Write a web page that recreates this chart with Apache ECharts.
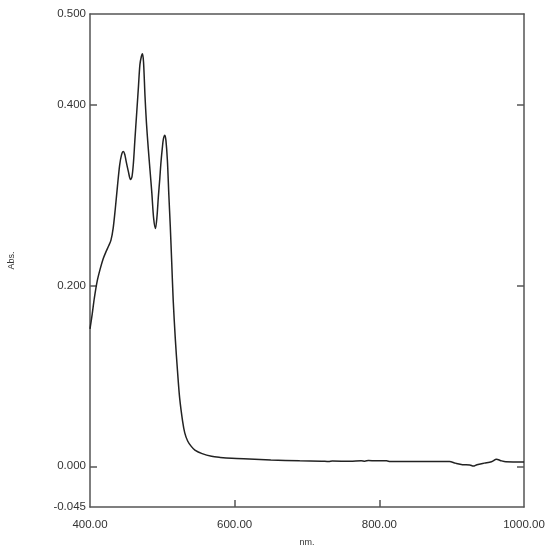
<!DOCTYPE html>
<html>
<head>
<meta charset="utf-8">
<script src="https://cdn.jsdelivr.net/npm/echarts@6/dist/echarts.min.js"></script>
<style>
  html, body { margin: 0; padding: 0; background: #fff; }
  #chart { width: 550px; height: 548px; }
</style>
</head>
<body>
<div id="chart"></div>
<script>
// wavelength (nm) and absorbance
const wavelength = [
  400, 403, 406, 410, 414, 418, 422, 426, 429, 432, 435, 438, 441, 443.5, 446,
  448, 450, 453, 456, 458, 460, 462, 464.5, 467, 469, 471, 472.5, 474, 476, 478,
  480.5, 483, 485.5, 488, 490.5, 492.5, 494.5, 496.5, 498, 500, 501.5, 503.5, 505,
  507, 509, 511, 513, 515, 518, 521, 524, 528, 531, 535, 540, 545, 555, 568, 580,
  596, 620, 650, 690, 720, 730, 735, 760, 775, 780, 785, 795, 810, 815, 860, 897,
  905, 915, 925, 930, 935, 945, 955, 962, 968, 975, 1000
];
const absorbance = [
  0.152, 0.168, 0.186, 0.205, 0.218, 0.229, 0.237, 0.244, 0.250, 0.263, 0.285, 0.310, 0.333, 0.344, 0.348,
  0.345, 0.337, 0.326, 0.317, 0.320, 0.335, 0.360, 0.390, 0.420, 0.444, 0.453, 0.456, 0.447, 0.410, 0.380,
  0.352, 0.327, 0.302, 0.274, 0.263, 0.275, 0.298, 0.318, 0.335, 0.352, 0.362, 0.366, 0.360,
  0.338, 0.300, 0.265, 0.225, 0.184, 0.140, 0.105, 0.075, 0.050, 0.037, 0.028, 0.022, 0.018, 0.014, 0.011, 0.0098,
  0.0088, 0.0080, 0.0070, 0.0060, 0.0057, 0.0052, 0.0058, 0.0055, 0.0062, 0.0057, 0.0064, 0.0060, 0.0060, 0.0052, 0.0052, 0.0052,
  0.0035, 0.0018, 0.0015, 0.0002, 0.0018, 0.0035, 0.0050, 0.0078, 0.0062, 0.0050, 0.0048
];

const yLabelValues = [-0.045, 0, 0.2, 0.4, 0.5];
const yTickValues = [0, 0.2, 0.4];
const xTickValues = [600, 800];

const frame = { show: true, onZero: false, lineStyle: { color: '#555', width: 1.5 } };
const tickStyle = { lineStyle: { color: '#555', width: 1.5 } };
const labelFont = { color: '#333', fontFamily: 'Liberation Sans, Arial, sans-serif', fontSize: 11.5 };

const chart = echarts.init(document.getElementById('chart'));
chart.setOption({
  animation: false,
  grid: { left: 90, right: 26, top: 14, bottom: 41, outerBoundsMode: 'none', containLabel: false },
  xAxis: [
    {
      type: 'value', min: 400, max: 1000, interval: 200, position: 'bottom',
      name: 'nm.', nameLocation: 'middle', nameGap: 31,
      nameTextStyle: { color: '#333', fontFamily: 'Liberation Sans, Arial, sans-serif', fontSize: 9 },
      axisLine: frame,
      axisTick: { show: true, inside: true, length: 7, customValues: xTickValues, ...tickStyle },
      axisLabel: { ...labelFont, margin: 12, formatter: v => v.toFixed(2) },
      splitLine: { show: false }
    },
    {
      type: 'value', min: 400, max: 1000, position: 'top',
      axisLine: frame, axisTick: { show: false }, axisLabel: { show: false }, splitLine: { show: false }
    }
  ],
  yAxis: [
    {
      type: 'value', min: -0.045, max: 0.5, position: 'left',
      name: 'Abs.', nameLocation: 'middle', nameGap: 74, nameRotate: 90,
      nameTextStyle: { color: '#333', fontFamily: 'Liberation Sans, Arial, sans-serif', fontSize: 9 },
      axisLine: frame,
      axisTick: { show: true, inside: true, length: 7, customValues: yTickValues, ...tickStyle },
      axisLabel: { ...labelFont, margin: 4, customValues: yLabelValues, formatter: v => v.toFixed(3) },
      splitLine: { show: false }
    },
    {
      type: 'value', min: -0.045, max: 0.5, position: 'right',
      axisLine: frame,
      axisTick: { show: true, inside: true, length: 7, customValues: yTickValues, ...tickStyle },
      axisLabel: { show: false },
      splitLine: { show: false }
    }
  ],
  series: [
    {
      type: 'line',
      data: wavelength.map((w, i) => [w, absorbance[i]]),
      showSymbol: false,
      smooth: 0.3,
      lineStyle: { color: '#222', width: 1.5 }
    }
  ]
});
</script>
</body>
</html>
